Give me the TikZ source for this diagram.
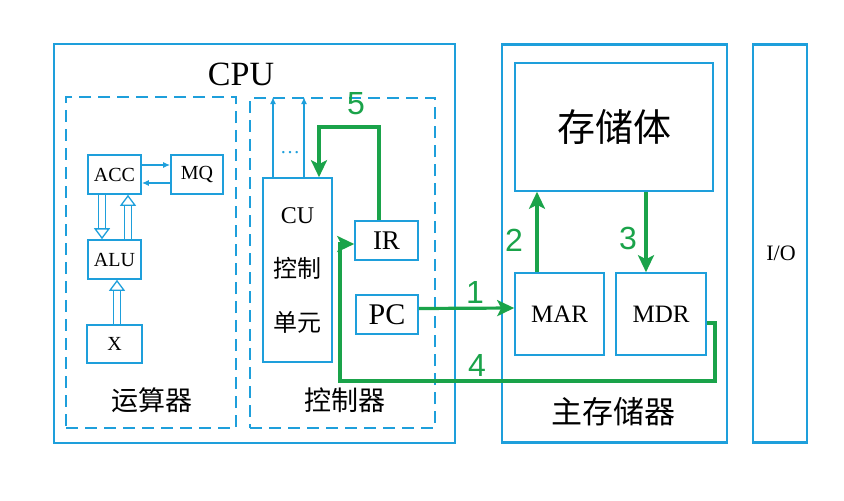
\documentclass[tikz,border=0pt]{standalone}
\usepackage{fontspec}
\setmainfont{Liberation Serif}
\newfontfamily\cjk{Noto Sans CJK SC}
\newfontfamily\numfont{Liberation Sans}
\usetikzlibrary{arrows.meta,calc}
\definecolor{blueline}{HTML}{1E9FDB}
\definecolor{flowgreen}{HTML}{1AA34A}

\begin{document}
\begin{tikzpicture}[x=1pt,y=-1pt,
  frame/.style={draw=blueline,line width=2.6pt,inner sep=0pt},
  part/.style={draw=blueline,line width=1.8pt,dash pattern=on 12pt off 7pt,inner sep=0pt},
  reg/.style={draw=blueline,line width=1.6pt,inner sep=0pt,font=\fontsize{20}{24}\selectfont},
  wire/.style={blueline,line width=1.5pt,-{Latex[length=7pt,width=6pt]}},
  hollow/.style={draw=blueline,line width=1.3pt,double=white,double distance=5.5pt,-{Triangle[open,length=11pt,width=16pt]}},
  bus/.style={flowgreen,line width=3.2pt,-{Stealth[length=17pt,width=16pt,inset=4pt]}},
  num/.style={text=flowgreen,font=\numfont\fontsize{32}{32}\selectfont}]
  \useasboundingbox (0,0) rectangle (844,501);

  % Outer units
  \node[frame,minimum width=401,minimum height=399] (cpu) at (254.5,243.5) {};
  \node[font=\fontsize{34}{34}\selectfont] (cputitle) at (241,74) {CPU};
  \node[frame,minimum width=225,minimum height=398] (mem) at (614.5,243.5) {};
  \node[font=\cjk\fontsize{31}{31}\selectfont] (memtitle) at (613,412) {主存储器};
  \node[frame,minimum width=54,minimum height=398] (io) at (780,243.5) {};
  \node[font=\fontsize{22}{22}\selectfont] (iotitle) at (781,253) {I/O};

  % Arithmetic unit
  \node[part,minimum width=170,minimum height=331] (alupart) at (151,262.5) {};
  \node[font=\cjk\fontsize{27}{27}\selectfont] (alutitle) at (152,400) {运算器};
  \node[reg,minimum width=53,minimum height=39] (acc) at (114.5,174.5) {ACC};
  \node[reg,minimum width=52,minimum height=39] (mq) at (197,174.5) {MQ};
  \node[reg,minimum width=53,minimum height=39] (alu) at (114.5,259.5) {ALU};
  \node[reg,minimum width=55,minimum height=38] (xreg) at (114.5,344) {X};
  \draw[wire] ($(acc.east)+(0,-9.5)$) -- ($(mq.west)+(0,-9.5)$);
  \draw[wire] ($(mq.west)+(0,8.5)$) -- ($(acc.east)+(0,8.5)$);
  \draw[hollow] ($(acc.south)+(-12.5,0)$) -- ($(alu.north)+(-12.5,0)$);
  \draw[hollow] ($(alu.north)+(13.5,0)$) -- ($(acc.south)+(13.5,0)$);
  \draw[hollow] ($(xreg.north)+(2.5,0)$) -- ($(alu.south)+(2.5,0)$);

  % Control unit
  \node[part,minimum width=185,minimum height=330] (ctrlpart) at (342.5,263) {};
  \node[font=\cjk\fontsize{27}{27}\selectfont] (ctrltitle) at (345,400) {控制器};
  \node[reg,minimum width=69,minimum height=184,align=center,font=\fontsize{24}{54}\selectfont] (cu) at (297.5,270)
    {CU\\{\cjk 控制}\\{\cjk 单元}};
  \node[reg,minimum width=63,minimum height=39,font=\fontsize{27}{27}\selectfont] (ir) at (386.5,240.5) {IR};
  \node[reg,minimum width=62,minimum height=39,font=\fontsize{30}{30}\selectfont] (pc) at (387,314.5) {PC};
  \coordinate (cua) at ($(cu.north)+(-24.5,0)$);
  \coordinate (cub) at ($(cu.north)+(6.5,0)$);
  \draw[wire,line width=1.2pt] (cua) -- (cua |- ctrlpart.north);
  \draw[wire,line width=1.2pt] (cub) -- (cub |- ctrlpart.north);
  \node[anchor=base,text=blueline,font=\fontsize{20}{20}\selectfont] (cudots) at (290,153) {\ldots};

  % Memory
  \node[reg,minimum width=198,minimum height=128,font=\cjk\fontsize{38}{38}\selectfont] (store) at (614,127) {存储体};
  \node[reg,minimum width=89,minimum height=82,font=\fontsize{25}{25}\selectfont] (mar) at (559.5,314) {MAR};
  \node[reg,minimum width=90,minimum height=82,font=\fontsize{25}{25}\selectfont] (mdr) at (661,314) {MDR};

  % Instruction fetch steps
  \draw[bus] ($(pc.east)+(0,-6)$) -- ($(mar.west)+(0,-6)$);
  \node[num] (n1) at (475,292) {1};
  \coordinate (m2) at ($(mar.north)+(-22.5,0)$);
  \draw[bus] (m2) -- (m2 |- store.south);
  \node[num] (n2) at (514,240) {2};
  \coordinate (s3) at ($(store.south)+(32,0)$);
  \draw[bus] (s3) -- (s3 |- mdr.north);
  \node[num] (n3) at (628,238) {3};
  \coordinate (c4a) at (715,381);
  \coordinate (c4b) at (340,244);
  \draw[bus] ($(mdr.east)+(0,9)$) -| (c4a) -| (c4b) -- (c4b -| ir.west);
  \node[num] (n4) at (477,365) {4};
  \coordinate (c5a) at ($(ir.north)+(-7.5,0)$);
  \coordinate (c5b) at (319,127);
  \draw[bus] (c5a) |- (c5b) -- (c5b |- cu.north);
  \node[num] (n5) at (356,104) {5};
\end{tikzpicture}
\end{document}
